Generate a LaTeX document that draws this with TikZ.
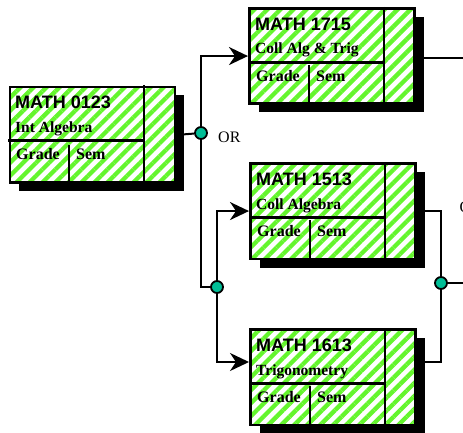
\documentclass[tikz,border=0pt]{standalone}
\usepackage{fontspec}
\setmainfont{Liberation Serif}
\newfontfamily\hsans{Liberation Sans}
\usetikzlibrary{patterns.meta,arrows.meta,calc}
\definecolor{stripe}{RGB}{100,245,45}
\definecolor{dot}{RGB}{0,190,150}
\tikzset{
  cbox/.style={draw, line width=2.6pt, minimum width=165pt, minimum height=95.5pt,
    inner sep=0pt, anchor=north west, preaction={fill=white},
    pattern={Lines[angle=45,distance=9.2pt,line width=4.3pt]}, pattern color=stripe},
  shade/.style={fill=black},
  divline/.style={line width=2.4pt},
  codetxt/.style={anchor=base west, inner sep=0pt, font={\hsans\bfseries\fontsize{18}{20}\selectfont}},
  titletxt/.style={anchor=base west, inner sep=0pt, font={\bfseries\fontsize{15.5}{18}\selectfont}},
  celltxt/.style={anchor=base west, inner sep=0pt, font={\bfseries\fontsize{16}{18}\selectfont}},
  ortxt/.style={anchor=base west, inner sep=0pt, font={\fontsize{16}{18}\selectfont}},
  conn/.style={line width=2pt},
  arr/.style={conn, -{Stealth[length=19pt,width=18pt,inset=6pt]}},
  junc/.style={circle, draw, line width=1.8pt, fill=dot, minimum size=12pt, inner sep=0pt},
}
\newcommand\coursebox[5]{%
  \fill[shade] ({#2+11},{#3+10}) rectangle ++(165,95.5);
  \node[cbox] (#1) at (#2,#3) {};
  \draw[divline] ([xshift=136pt]#1.north west) -- ([xshift=136pt]#1.south west);
  \draw[divline] ([yshift=-55.5pt]#1.north west) -- ([xshift=136pt,yshift=-55.5pt]#1.north west);
  \draw[divline] ([xshift=61pt]#1.south west) -- ([xshift=61pt,yshift=40pt]#1.south west);
  \node[codetxt] (#1-code) at ([xshift=7pt,yshift=-23.5pt]#1.north west) {#4};
  \node[titletxt] (#1-title) at ([xshift=7pt,yshift=-47pt]#1.north west) {#5};
  \node[celltxt] (#1-grade) at ([xshift=8pt,yshift=-74.5pt]#1.north west) {Grade};
  \node[celltxt] (#1-sem) at ([xshift=68pt,yshift=-74.5pt]#1.north west) {Sem};
}
\begin{document}
\begin{tikzpicture}[x=1pt,y=-1pt]
\useasboundingbox (0,0) rectangle (463,433);
\clip (0,0) rectangle (463,433);
\fill[white] (0,0) rectangle (463,433);

\coursebox{A}{8}{85}{MATH 0123}{Int Algebra}
\coursebox{B}{248}{7}{MATH 1715}{Coll Alg \& Trig}
\coursebox{C}{249}{162}{MATH 1513}{Coll Algebra}
\coursebox{D}{249}{328}{MATH 1613}{Trigonometry}

\node[junc] (J1) at (201,133) {};
\node[junc] (J2) at (217,287) {};
\node[junc] (J3) at (441,283) {};

\coordinate (Din) at ([yshift=-34pt]D.north west);
\coordinate (Dout) at ([yshift=-34pt]D.north east);
\coordinate (Bout) at ([yshift=-51pt]B.north east);
\coordinate (Bend) at (463,58);
\coordinate (Jend) at (463,283);

\draw[conn] (A.east) -- (J1);
\draw[arr] (J1) |- (B.west);
\draw[conn] (J1) |- (J2);
\draw[arr] (J2) |- (C.west);
\draw[arr] (J2) |- (Din);
\draw[conn] (C.east) -| (J3);
\draw[conn] (Dout) -| (J3);
\draw[conn] (J3) -- (Jend);
\draw[conn] (Bout) -- (Bend);

\node[ortxt] (or1) at (218,142.5) {OR};
\node[ortxt] (or2) at (459.5,212) {OR};
\end{tikzpicture}
\end{document}
